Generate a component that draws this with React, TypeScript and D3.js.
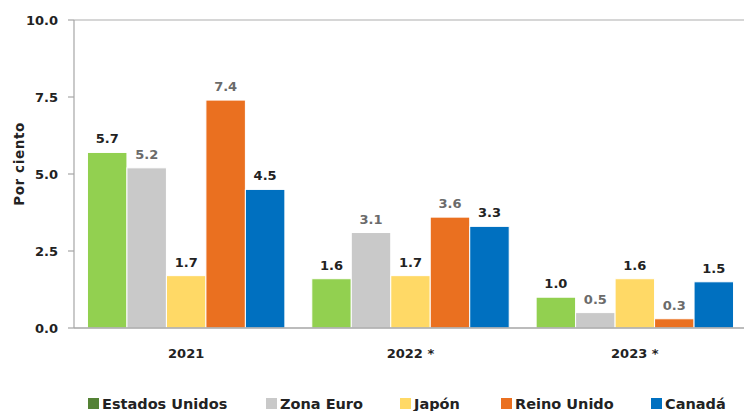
import React from "react";
import * as d3 from "d3";

const categories = ["2021", "2022 *", "2023 *"];
const seriesNames = ["Estados Unidos", "Zona Euro", "Japón", "Reino Unido", "Canadá"];
const estadosUnidos = [5.7, 1.6, 1.0];
const zonaEuro = [5.2, 3.1, 0.5];
const japon = [1.7, 1.7, 1.6];
const reinoUnido = [7.4, 3.6, 0.3];
const canada = [4.5, 3.3, 1.5];
const yTicks = [0, 2.5, 5, 7.5, 10];

const barColors = ["#92D050", "#C9C9C9", "#FFD966", "#EA7020", "#0070C0"];
const legendColors = ["#548235", "#C9C9C9", "#FFD966", "#EA7020", "#0070C0"];
const labelColors = ["#222222", "#6b6b6b", "#222222", "#6b6b6b", "#222222"];
const legendX = [88, 266, 400, 501, 651];

const W = 744;
const H = 411;
const FONT = "'DejaVu Sans', sans-serif";

export default function App() {
  const series = [estadosUnidos, zonaEuro, japon, reinoUnido, canada];
  const x0 = d3.scaleBand<string>().domain(categories).range([74, 747]).paddingInner(0.12).paddingOuter(0.06);
  const x1 = d3.scaleBand<number>().domain(d3.range(seriesNames.length)).range([0, x0.bandwidth()]).padding(0);
  const y = d3.scaleLinear().domain([0, 10]).range([328, 20]);

  return (
    <svg width={W} height={H} style={{ position: "absolute", left: 0, top: 0, background: "#fff" }} fontFamily={FONT}>
      {/* top border */}
      <line x1={74} x2={744} y1={y(10)} y2={y(10)} stroke="#c8c8c8" strokeWidth={1.5} />
      {/* y axis */}
      <line x1={74} x2={74} y1={y(10)} y2={y(0)} stroke="#a6a6a6" strokeWidth={1.2} />
      {yTicks.map((t) => (
        <g key={t}>
          <line x1={68} x2={74} y1={y(t)} y2={y(t)} stroke="#a6a6a6" strokeWidth={1.2} />
          <text x={58} y={y(t)} dy="0.36em" textAnchor="end" fontSize={13} fontWeight={700} fill="#222">
            {t.toFixed(1)}
          </text>
        </g>
      ))}
      <text
        transform={`translate(24,${y(5) - 10}) rotate(-90)`}
        textAnchor="middle"
        fontSize={13.5}
        fontWeight={700}
        letterSpacing={0.6}
        fill="#222"
      >
        Por ciento
      </text>
      {/* bars */}
      {categories.map((c, ci) => (
        <g key={c} transform={`translate(${x0(c)},0)`}>
          {series.map((s, si) => (
            <g key={si}>
              <rect
                x={x1(si)!}
                y={y(s[ci])}
                width={x1.bandwidth()}
                height={y(0) - y(s[ci])}
                fill={barColors[si]}
                stroke="#fff"
                strokeWidth={1}
              />
              <text
                x={x1(si)! + x1.bandwidth() / 2}
                y={y(s[ci]) - 9}
                textAnchor="middle"
                fontSize={13}
                fontWeight={700}
                fill={labelColors[si]}
              >
                {s[ci].toFixed(1)}
              </text>
            </g>
          ))}
          <text x={x0.bandwidth() / 2} y={358} textAnchor="middle" fontSize={13} fontWeight={700} fill="#222">
            {c}
          </text>
        </g>
      ))}
      {/* x axis line */}
      <line x1={74} x2={744} y1={y(0)} y2={y(0)} stroke="#a6a6a6" strokeWidth={1.5} />
      {/* legend */}
      {seriesNames.map((n, i) => (
        <g key={n} transform={`translate(${legendX[i]},398)`}>
          <rect x={0} y={0} width={11} height={11} fill={legendColors[i]} />
          <text x={14} y={10.5} fontSize={14.5} fontWeight={700} fill="#222">
            {n}
          </text>
        </g>
      ))}
    </svg>
  );
}
